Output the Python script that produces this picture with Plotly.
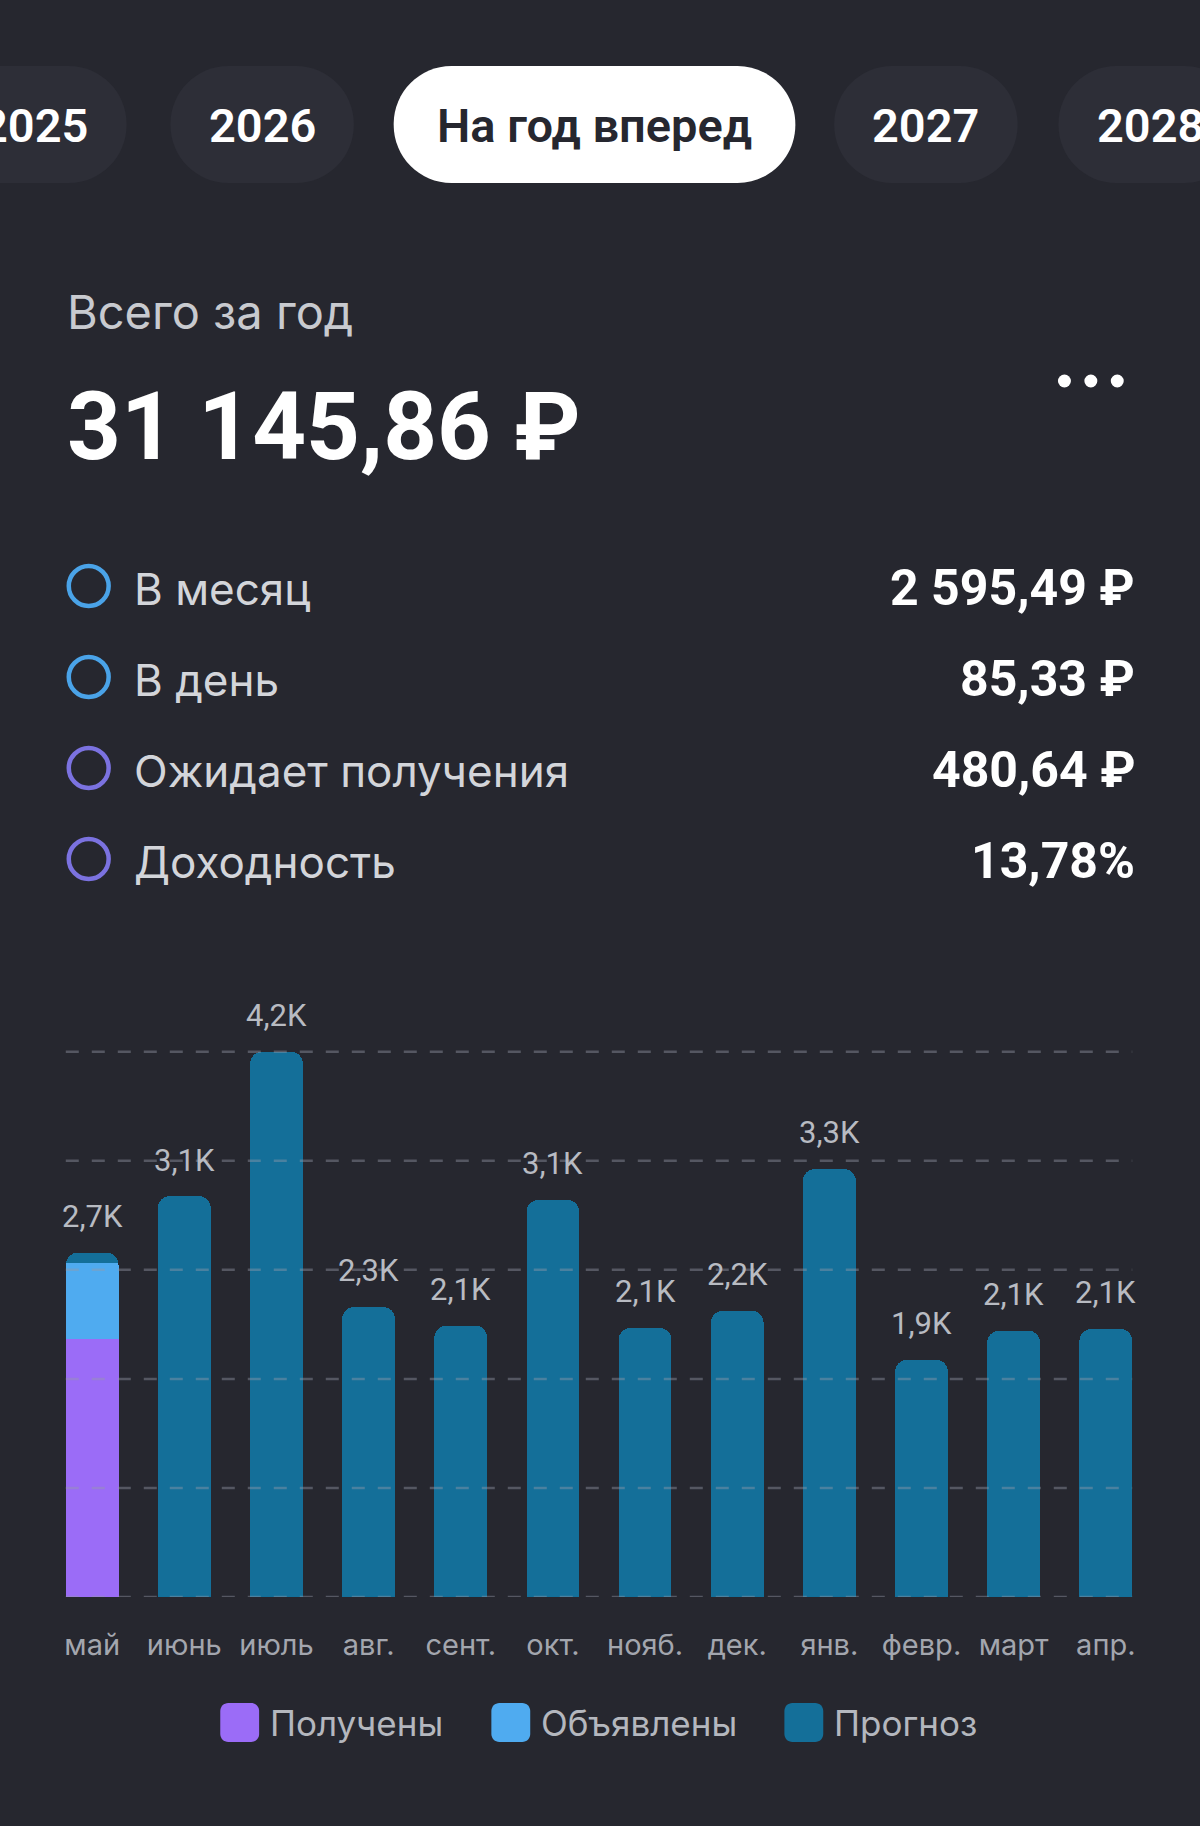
import plotly.graph_objects as go

# ---------------- data ----------------
months = ["май", "июнь", "июль", "авг.", "сент.", "окт.", "нояб.", "дек.", "янв.", "февр.", "март", "апр."]
received = [2004, None, None, None, None, None, None, None, None, None, None, None]
declared = [596, None, None, None, None, None, None, None, None, None, None, None]
forecast = [77, 3118, 4240, 2255, 2110, 3087, 2092, 2226, 3328, 1845, 2071, 2084]
bar_labels = ["2,7K", "3,1K", "4,2K", "2,3K", "2,1K", "3,1K", "2,1K", "2,2K", "3,3K", "1,9K", "2,1K", "2,1K"]

series_names = ["Получены", "Объявлены", "Прогноз"]
series_colors = ["#9b6cf7", "#4fabf0", "#146f99"]

tabs = ["2025", "2026", "На год вперед", "2027", "2028"]
summary_title = "Всего за год"
summary_total = "31 145,86 ₽"
stat_names = ["В месяц", "В день", "Ожидает получения", "Доходность"]
stat_values = ["2 595,49 ₽", "85,33 ₽", "480,64 ₽", "13,78%"]
stat_colors = ["#4aa3e8", "#4aa3e8", "#7b72e0", "#7b72e0"]

# ---------------- style ----------------
W, H = 1200, 1826
BG = "#26272f"
PILL = "#2d2e37"
LABEL_FONT = "Inter, Roboto, sans-serif"
NUM_FONT = "Roboto, Inter, sans-serif"


def X(px):
    return px / W


def Y(py):
    return 1 - py / H


def rr_path(x0, y0, x1, y1, r):
    k = 0.5523 * r
    pts = [
        ("M", [(x0 + r, y0)]),
        ("L", [(x1 - r, y0)]),
        ("C", [(x1 - r + k, y0), (x1, y0 + r - k), (x1, y0 + r)]),
        ("L", [(x1, y1 - r)]),
        ("C", [(x1, y1 - r + k), (x1 - r + k, y1), (x1 - r, y1)]),
        ("L", [(x0 + r, y1)]),
        ("C", [(x0 + r - k, y1), (x0, y1 - r + k), (x0, y1 - r)]),
        ("L", [(x0, y0 + r)]),
        ("C", [(x0, y0 + r - k), (x0 + r - k, y0), (x0 + r, y0)]),
    ]
    s = ""
    for cmd, ps in pts:
        s += cmd + " ".join(f"{X(a):.5f},{Y(b):.5f}" for a, b in ps) + " "
    return s + "Z"


fig = go.Figure()
for name, vals, col in zip(series_names, [received, declared, forecast], series_colors):
    fig.add_trace(go.Bar(x=months, y=vals, name=name, marker=dict(color=col, line=dict(width=0)),
                         hoverinfo="skip", showlegend=False))

totals = [sum(v for v in (a, b, c) if v is not None) for a, b, c in zip(received, declared, forecast)]
top = max(totals)

shapes = []
annotations = []

# gridlines (above bars, translucent)
for i in range(6):
    shapes.append(dict(type="line", xref="paper", yref="y", x0=X(65), x1=X(1135),
                       y0=top * i / 5, y1=top * i / 5, layer="above",
                       line=dict(color="rgba(150,155,170,0.42)", width=2.5, dash="13px,13px")))

# value labels above bars
for m, t, lab in zip(months, totals, bar_labels):
    annotations.append(dict(x=m, y=t, xref="x", yref="y", text=lab, showarrow=False,
                            yshift=36, yanchor="middle", xanchor="center",
                            font=dict(family=NUM_FONT, size=31, color="#b8bbc2")))

# tabs
pill_boxes = [(-58, 126), (170, 354), (394, 797), (836, 1020), (1061, 1245)]
for (x0, x1), t in zip(pill_boxes, tabs):
    active = t == "На год вперед"
    shapes.append(dict(type="path", xref="paper", yref="paper", path=rr_path(x0, 66, x1, 183, 58),
                       fillcolor="#ffffff" if active else PILL, line=dict(width=0), layer="below"))
    annotations.append(dict(x=X((x0 + x1) / 2), y=Y(125), xref="paper", yref="paper", text=t,
                            showarrow=False, xanchor="center", yanchor="middle",
                            font=dict(family=NUM_FONT, size=47, color=BG if active else "#ffffff",
                                      weight=600)))

# summary
annotations.append(dict(x=X(64), y=Y(312), xref="paper", yref="paper", text=summary_title,
                        showarrow=False, xanchor="left", yanchor="middle",
                        font=dict(family=LABEL_FONT, size=47, color="#c8cacf")))
annotations.append(dict(x=X(64), y=Y(427), xref="paper", yref="paper", text=summary_total,
                        showarrow=False, xanchor="left", yanchor="middle",
                        font=dict(family=NUM_FONT, size=94, color="#ffffff", weight="bold")))
for cx in (1067, 1093.5, 1120):
    shapes.append(dict(type="circle", xref="paper", yref="paper", x0=X(cx - 6.5), x1=X(cx + 6.5),
                       y0=Y(381 + 6.5), y1=Y(381 - 6.5), fillcolor="#ffffff", line=dict(width=0)))

# stat rows
row_y = [586, 677, 768, 859]
for yy, nm, val, col in zip(row_y, stat_names, stat_values, stat_colors):
    shapes.append(dict(type="circle", xref="paper", yref="paper", x0=X(88 - 20), x1=X(88 + 20),
                       y0=Y(yy + 20), y1=Y(yy - 20), line=dict(color=col, width=4.5),
                       fillcolor="rgba(0,0,0,0)"))
    annotations.append(dict(x=X(131), y=Y(yy + 3), xref="paper", yref="paper", text=nm,
                            showarrow=False, xanchor="left", yanchor="middle",
                            font=dict(family=LABEL_FONT, size=44, color="#d3d5da")))
    annotations.append(dict(x=X(1140), y=Y(yy + 2), xref="paper", yref="paper", text=val,
                            showarrow=False, xanchor="right", yanchor="middle",
                            font=dict(family=NUM_FONT, size=50, color="#ffffff", weight="bold")))

# manual legend
leg_sq = [(220, 259), (492, 531), (786, 825)]
for (x0, x1), nm, col in zip(leg_sq, series_names, series_colors):
    shapes.append(dict(type="path", xref="paper", yref="paper", path=rr_path(x0, 1703, x1, 1742, 8),
                       fillcolor=col, line=dict(width=0)))
    annotations.append(dict(x=X(x1 + 9), y=Y(1723), xref="paper", yref="paper", text=nm,
                            showarrow=False, xanchor="left", yanchor="middle",
                            font=dict(family=LABEL_FONT, size=35, color="#b4b7be")))

k_px = 545.3 / 4240  # pixels per unit
base_px, top_px = 1597, 1000
fig.update_layout(
    width=W, height=H, margin=dict(l=0, r=0, t=0, b=0),
    paper_bgcolor=BG, plot_bgcolor=BG,
    barmode="stack", bargap=0.427, barcornerradius=12,
    showlegend=False, hovermode=False,
    xaxis=dict(domain=[X(65), X(1135)], range=[-0.2865, 11.2865], showgrid=False, zeroline=False,
               showline=False, ticks="", tickfont=dict(family=LABEL_FONT, size=29, color="#a3a6ae"),
               ticklabelstandoff=28, fixedrange=True),
    yaxis=dict(domain=[1 - base_px / H, 1 - top_px / H], range=[0, (base_px - top_px) / k_px],
               visible=False, showgrid=False, zeroline=False, fixedrange=True),
    shapes=shapes, annotations=annotations,
)

fig.write_html("out.html", config={"displayModeBar": False},
               post_script="document.body.style.margin='0';document.body.style.background='" + BG + "';")
